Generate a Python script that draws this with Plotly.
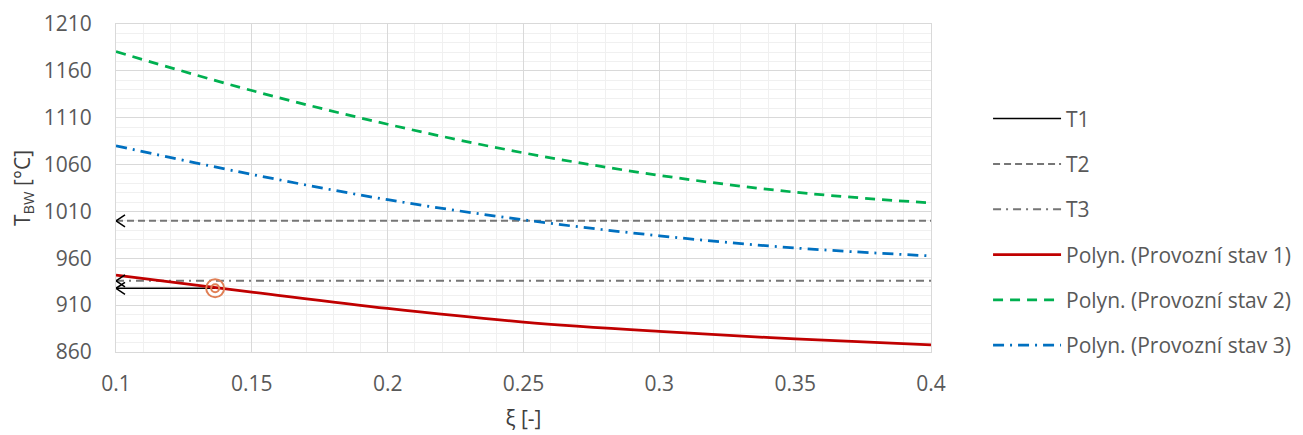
import plotly.graph_objects as go

# ---- data ----
xi = [0.1, 0.15, 0.2, 0.25, 0.3, 0.35, 0.4]
stav1 = [942, 924, 906.5, 892, 882, 874, 867.5]
stav2 = [1180.5, 1139, 1103, 1072.5, 1048.5, 1030.5, 1019]
stav3 = [1080, 1049.5, 1022.5, 1001, 984, 971, 962.5]

T1 = 928
T2 = 1000
T3 = 936
xi_T1 = 0.1365

x_min, x_max = 0.1, 0.4
y_min, y_max = 860, 1210

# ---- layout constants (page body adds an 8px offset) ----
W, H = 1295, 427
ML, MR, MT, MB = 108, 372, 16, 83
plot_w = W - ML - MR
plot_h = H - MT - MB
px_x = (x_max - x_min) / plot_w
px_y = (y_max - y_min) / plot_h

FONT = "Open Sans"
FS = 21
LFS = 21
GREY_TXT = "#595959"
MARK = "#E07F55"

fig = go.Figure()

# horizontal reference lines
fig.add_trace(go.Scatter(x=[x_min, xi_T1], y=[T1, T1], mode="lines", name="T1",
                         line=dict(color="#000000", width=1.5), legendgroup="g1"))
fig.add_trace(go.Scatter(x=[x_min, x_max], y=[T2, T2], mode="lines", name="T2",
                         line=dict(color="#767676", width=2, dash="7px,4px"), legendgroup="g2"))
fig.add_trace(go.Scatter(x=[x_min, x_max], y=[T3, T3], mode="lines", name="T3",
                         line=dict(color="#767676", width=2, dash="8px,5px,2px,5px"), legendgroup="g3"))

# polynomial trend curves
fig.add_trace(go.Scatter(x=xi, y=stav1, mode="lines", name="Polyn. (Provozní stav 1)",
                         line=dict(color="#C00000", width=2.75, shape="spline"), legendgroup="g4"))
fig.add_trace(go.Scatter(x=xi, y=stav2, mode="lines", name="Polyn. (Provozní stav 2)",
                         line=dict(color="#00B050", width=2.75, shape="spline", dash="10px,7px"),
                         legendgroup="g5"))
fig.add_trace(go.Scatter(x=xi, y=stav3, mode="lines", name="Polyn. (Provozní stav 3)",
                         line=dict(color="#0070C0", width=2.75, shape="spline", dash="11px,6px,2px,6px"),
                         legendgroup="g6"))

# open arrowheads at the left end of T-lines
ax_dx = 9 * px_x
ax_dy = 6 * px_y
for T in (T1, T2, T3):
    fig.add_trace(go.Scatter(x=[x_min + ax_dx, x_min, x_min + ax_dx],
                             y=[T + ax_dy, T, T - ax_dy], mode="lines",
                             line=dict(color="#000000", width=1.5), showlegend=False,
                             hoverinfo="skip"))

# operating point marker (double ring)
fig.add_trace(go.Scatter(x=[xi_T1], y=[T1], mode="markers", showlegend=False,
                         marker=dict(symbol="circle-open", size=18, color=MARK,
                                     line=dict(color=MARK, width=2))))
fig.add_trace(go.Scatter(x=[xi_T1], y=[T1], mode="markers", showlegend=False,
                         marker=dict(symbol="circle-open", size=8, color=MARK,
                                     line=dict(color=MARK, width=2))))

fig.update_layout(
    width=W, height=H,
    margin=dict(l=ML, r=MR, t=MT, b=MB, autoexpand=False),
    paper_bgcolor="white", plot_bgcolor="white",
    font=dict(family=FONT, size=FS, color=GREY_TXT),
    showlegend=True,
    legend=dict(x=1.070, xanchor="left", y=0.773, yanchor="top",
                traceorder="grouped", tracegroupgap=15, itemwidth=68,
                font=dict(family=FONT, size=LFS, color=GREY_TXT),
                bgcolor="rgba(0,0,0,0)"),
)

fig.update_xaxes(range=[x_min, x_max], dtick=0.05, tick0=0.1, automargin=False,
                 showgrid=True, gridcolor="#D9D9D9", gridwidth=1,
                 minor=dict(dtick=0.01, showgrid=True, gridcolor="#F0F0F0", gridwidth=1),
                 showline=True, linecolor="#D9D9D9", linewidth=1, mirror=True,
                 zeroline=False, ticks="", ticklabelstandoff=13,
                 tickfont=dict(family=FONT, size=FS, color=GREY_TXT),
                 title=dict(text="ξ [-]", font=dict(family=FONT, size=FS, color="#404040"),
                            standoff=15))
fig.update_yaxes(range=[y_min, y_max], dtick=50, tick0=860, automargin=False,
                 showgrid=True, gridcolor="#D9D9D9", gridwidth=1,
                 minor=dict(dtick=10, showgrid=True, gridcolor="#F0F0F0", gridwidth=1),
                 showline=True, linecolor="#D9D9D9", linewidth=1, mirror=True,
                 zeroline=False, ticks="", ticklabelstandoff=19,
                 tickfont=dict(family=FONT, size=FS, color=GREY_TXT),
                 title=dict(text="T<sub>BW</sub> [°C]", font=dict(family=FONT, size=FS, color="#404040"),
                            standoff=13))

fig.write_html("out.html")
